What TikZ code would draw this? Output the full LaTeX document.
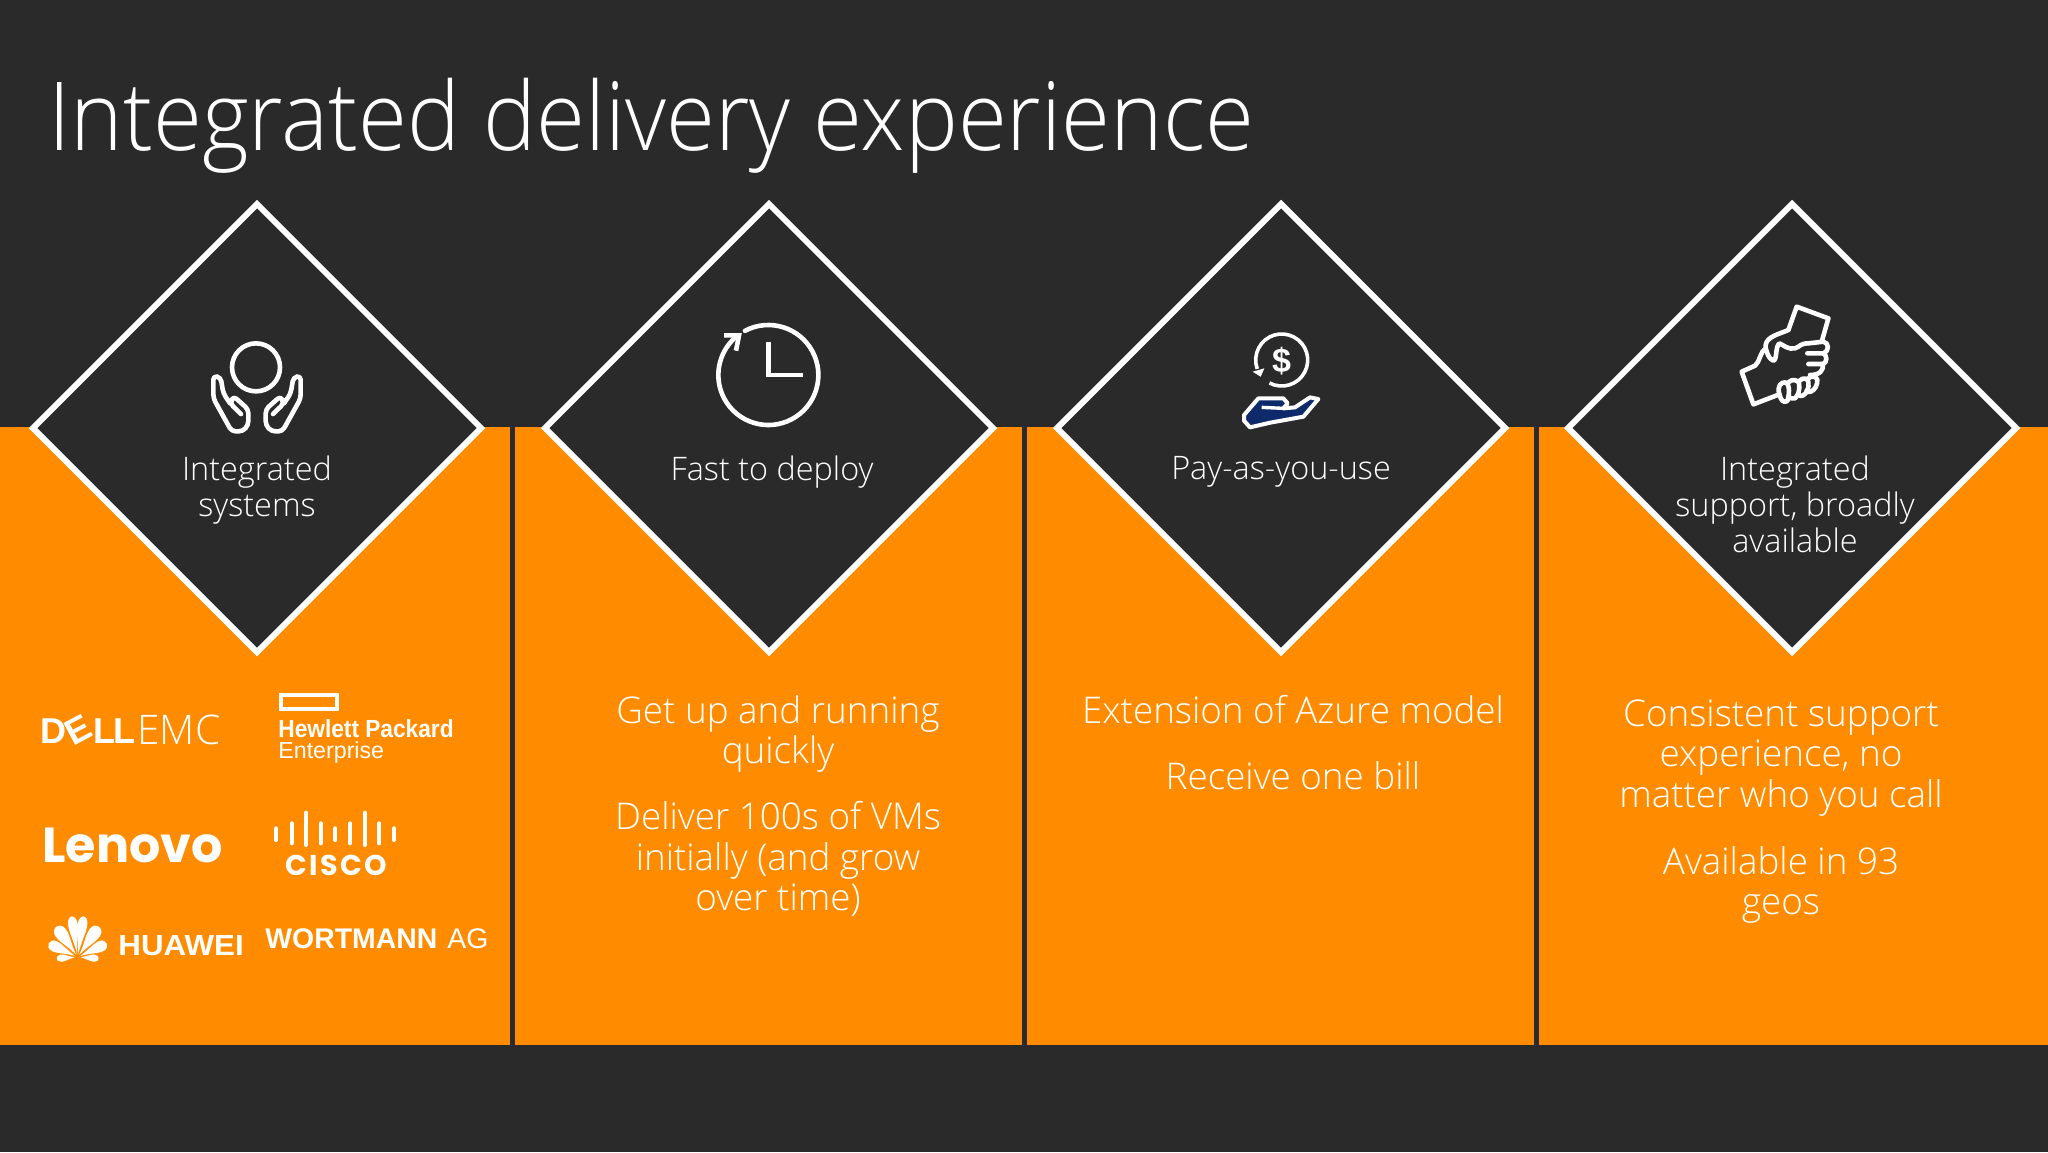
\documentclass[tikz,border=0pt]{standalone}
\usepackage{fontspec}
\setmainfont{Open Sans Light}
\newfontfamily\logof{Liberation Sans}
\newfontfamily\popf{Poppins}
\definecolor{bgc}{HTML}{2A2A2B}
\definecolor{orc}{HTML}{FF8C00}
\definecolor{navyc}{HTML}{0F2A6B}
\tikzset{
  panel/.style={fill=orc,draw=none},
  dia/.style={fill=bgc,draw=white,line width=3pt,miter limit=10},
  ico/.style={draw=white,line width=2.3pt,line cap=round,line join=round},
  captext/.style={text=white,align=center,inner sep=0pt,font=\fontsize{16.2}{18}\selectfont},
  bodyt/.style={text=white,align=center,inner sep=0pt,font=\fontsize{18.4}{20.4}\selectfont},
  logo/.style={text=white,inner sep=0pt,anchor=base west},
}
% petal: rotation, length, half width (picture pixels)
\newcommand{\petal}[3]{%
  \fill[white,rotate=#1] (0,-3) .. controls (-#3*0.4,-#2*0.45) and (-#3,-#2*0.6) .. (-#3,-#2*0.8) .. controls (-#3,-#2*0.95) and (-#3*0.4,-#2) .. (0,-#2) .. controls (#3*0.4,-#2) and (#3,-#2*0.95) .. (#3,-#2*0.8) .. controls (#3,-#2*0.6) and (#3*0.4,-#2*0.45) .. (0,-3) -- cycle;}
\begin{document}
\begin{tikzpicture}[x=0.5pt,y=-0.5pt]
\useasboundingbox (0,0) rectangle (2048,1152);
\fill[bgc] (0,0) rectangle (2048,1152);
\node[text=white,inner sep=0pt,anchor=base west,yscale=1.07,font=\fontsize{44.5}{50}\selectfont] (title) at (48,150) {Integrated delivery experience};
% panels
\fill[panel] (0,427) rectangle (510,1045);
\fill[panel] (515,427) rectangle (1022,1045);
\fill[panel] (1027,427) rectangle (1534,1045);
\fill[panel] (1539,427) rectangle (2048,1045);
% diamonds
\foreach \c in {257,769,1281,1792}{
  \draw[dia] (\c,204) -- (\c+224,428) -- (\c,652) -- (\c-224,428) -- cycle;
}
% captions
\node[captext] (c1) at (257,490) {Integrated\\systems};
\node[captext] (c2) at (772,472) {Fast to deploy};
\node[captext] (c3) at (1281,472) {Pay-as-you-use};
\node[captext] (c4) at (1795,504) {Integrated\\support, broadly\\available};
% body
\node[bodyt] (b2a) at (778,734) {Get up and running\\quickly};
\node[bodyt] (b2b) at (778,859) {Deliver 100s of VMs\\initially (and grow\\over time)};
\node[bodyt] (b3a) at (1293,710) {Extension of Azure model};
\node[bodyt] (b3b) at (1293,776) {Receive one bill};
\node[bodyt] (b4a) at (1781,758) {Consistent support\\experience, no\\matter who you call};
\node[bodyt] (b4b) at (1781,885) {Available in 93\\geos};
% hands icon
\begin{scope}[shift={(180,310)},x=0.1667pt,y=-0.1667pt]
  \draw[ico] (228,172) circle (72);
  \draw[ico,rounded corners=2pt] (183,312) -- (150,280) -- (160,258) -- (205,298) -- (205,345) -- (188,364) -- (155,364) -- (100,265) -- (100,197) -- (122,202) -- (130,250) -- (150,280);
  \draw[ico,rounded corners=2pt] (279,312) -- (312,280) -- (302,258) -- (257,298) -- (257,345) -- (274,364) -- (307,364) -- (362,265) -- (362,197) -- (340,202) -- (332,250) -- (312,280);
\end{scope}
% clock icon
\begin{scope}[shift={(690,310)},x=0.1667pt,y=-0.1667pt]
  \draw[ico] (235,195) ++(118:150pt*0.1667) arc[start angle=118,end angle=-228,radius=150pt*0.1667];
  \draw[ico,line cap=butt,line join=miter] (102,76) -- (147,76) -- (138,122);
  \draw[ico,line cap=butt,line join=miter] (235,95) -- (235,195) -- (338,195);
\end{scope}
% pay icon
\begin{scope}[shift={(1220,320)},x=0.1667pt,y=-0.1667pt]
  \draw[white,line width=1.8pt] (185,120) ++(-118:78pt*0.1667) arc[start angle=-118,end angle=200,radius=78pt*0.1667];
  \fill[white] (98,155) -- (133,145) -- (122,170) -- cycle;
  \node[text=white,inner sep=0pt,font=\logof\bfseries\fontsize{17}{17}\selectfont] (dollar) at (185,122) {\$};
  \draw[fill=navyc,draw=white,line width=2pt,line join=round] (72,302) -- (72,285) -- (115,235) -- (190,235) -- (203,250) -- (190,265) -- (225,262) -- (270,232) -- (295,237) -- (250,290) -- (150,308) -- (90,322) -- cycle;
  \draw[white,line width=1.7pt] (125,262) -- (190,265);
\end{scope}
% handshake icon
\begin{scope}[shift={(1720,295)},x=0.1667pt,y=-0.1667pt]
  \begin{scope}[ico,line width=2.3pt]
  \draw (205,105) -- (230,35) -- (325,70) -- (305,140);
  \draw (205,105) .. controls (175,118) and (140,125) .. (137,150) .. controls (135,165) and (148,195) .. (160,197) .. controls (172,195) and (165,155) .. (178,145) .. controls (190,150) and (205,165) .. (225,160) .. controls (240,155) and (240,145) .. (265,145) -- (310,140) .. controls (328,142) and (328,170) .. (310,175) -- (262,175);
  \draw (310,175) .. controls (322,180) and (322,205) .. (308,207) -- (265,207);
  \draw (308,207) .. controls (312,225) and (300,240) .. (270,240);
  \draw (137,160) .. controls (120,170) and (120,200) .. (105,212) -- (65,230) -- (100,328) -- (178,298);
  \draw (178,298) .. controls (170,270) and (185,262) .. (195,262) .. controls (205,262) and (212,285) .. (202,318) .. controls (190,325) and (182,315) .. (178,298);
  \draw (205,262) .. controls (215,250) and (235,255) .. (237,265) .. controls (240,285) and (235,300) .. (225,310) .. controls (218,312) and (208,310) .. (206,305);
  \draw (237,258) .. controls (250,245) and (265,250) .. (265,262) .. controls (268,280) and (260,295) .. (248,302) .. controls (242,304) and (236,302) .. (234,298);
  \draw (265,250) .. controls (275,240) and (290,245) .. (292,255) .. controls (292,270) and (285,285) .. (272,290) .. controls (266,292) and (262,290) .. (260,286);
  \end{scope}
\end{scope}
% Dell EMC
\node[logo,font=\logof\bfseries\fontsize{18}{20}\selectfont] (dellD) at (40,743) {D};
\node[text=white,inner sep=0pt,rotate=28,font=\logof\bfseries\fontsize{18}{20}\selectfont] (dellE) at (78,730) {E};
\node[logo,font=\logof\bfseries\fontsize{18}{20}\selectfont] (dellL) at (93,743) {L};
\node[logo,font=\logof\bfseries\fontsize{18}{20}\selectfont] (dellLL) at (113,743) {L};
\node[logo,font=\fontsize{20.4}{21}\selectfont] (emc) at (137,744) {EMC};
% HPE
\draw[white,line width=2pt] (281,695) rectangle (337,709);
\node[logo,xscale=0.915,font=\logof\bfseries\fontsize{12.4}{13}\selectfont] (hp1) at (278,737) {Hewlett Packard};
\node[logo,font=\logof\fontsize{11.6}{12}\selectfont] (hp2) at (278,758) {Enterprise};
% Lenovo
\node[logo,font=\popf\bfseries\fontsize{24.6}{25}\selectfont] (lenovo) at (42,862) {Lenovo};
% Cisco
\foreach \x/\a/\b in {828/505/540,875/490/550,918/458/555,962/490/550,1006/505/540,1050/490/550,1094/458/555,1138/490/550,1182/505/540}{
  \draw[white,line width=2pt,line cap=round] (\x/3,660+\a/3) -- (\x/3,660+\b/3);
}
\node[logo,font=\popf\bfseries\fontsize{14.3}{16}\selectfont] (cisco) at (285,875) {\addfontfeature{LetterSpace=8}CISCO};
% Huawei
\begin{scope}[shift={(77.7,957)},x=0.5pt,y=-0.5pt]
  \petal{-8.4}{41}{4.8}
  \petal{8.4}{41}{4.8}
  \petal{-35}{37}{6.3}
  \petal{35}{37}{6.3}
  \petal{-65}{32}{5.5}
  \petal{65}{32}{5.5}
  \petal{-94}{21}{3.6}
  \petal{94}{21}{3.6}
\end{scope}
\node[logo,xscale=1.08,font=\logof\bfseries\fontsize{14.5}{16}\selectfont] (huawei) at (118,955) {HUAWEI};
% Wortmann
\node[logo,font=\logof\bfseries\fontsize{14.2}{15}\selectfont] (wort) at (265,948) {WORTMANN};
\node[logo,font=\logof\fontsize{14.2}{15}\selectfont] (ag) at (447,948) {AG};
\end{tikzpicture}
\end{document}
